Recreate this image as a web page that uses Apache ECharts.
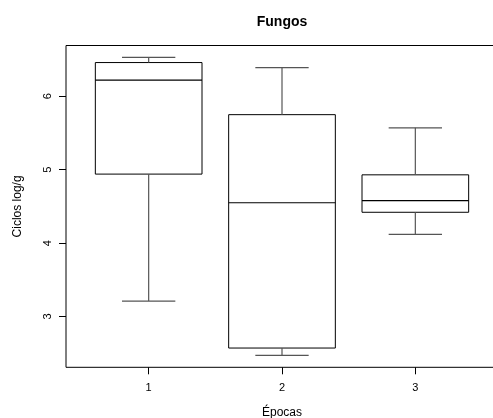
<!DOCTYPE html>
<html>
<head>
<meta charset="utf-8">
<script src="https://cdn.jsdelivr.net/npm/echarts@6/dist/echarts.min.js"></script>
<style>
html,body{margin:0;padding:0;background:#fff;}
#chart{width:493px;height:418px;}
</style>
</head>
<body>
<div id="chart"></div>
<script>
const categories = [1, 2, 3];
const lowerWhisker = [3.21, 2.47, 4.12];
const q1 = [4.94, 2.57, 4.42];
const median = [6.22, 4.55, 4.58];
const q3 = [6.46, 5.75, 4.93];
const upperWhisker = [6.53, 6.39, 5.57];
const yTicks = [3, 4, 5, 6];

const dataMin = Math.min(...lowerWhisker);
const dataMax = Math.max(...upperWhisker);
const pad = (dataMax - dataMin) * 0.04;

const FONT = '"Liberation Sans", Arial, sans-serif';
const BOX_HALF = 0.4, CAP_HALF = 0.2;

const seriesData = categories.map((c, i) => [c, lowerWhisker[i], q1[i], median[i], q3[i], upperWhisker[i]]);

const chart = echarts.init(document.getElementById('chart'), null, {renderer: 'canvas'});
chart.setOption({
  animation: false,
  backgroundColor: '#fff',
  title: {
    text: 'Fungos', left: 282, top: 15, textAlign: 'center', padding: 0,
    textStyle: {fontFamily: FONT, fontSize: 14, fontWeight: 'bold', color: '#000'}
  },
  grid: {
    left: 66, top: 45.5, width: 432, height: 321.8,
    outerBoundsMode: 'none', containLabel: false,
    show: true, borderColor: '#000', borderWidth: 1, backgroundColor: 'transparent'
  },
  xAxis: {
    type: 'value', min: 0.5 - 0.12, max: 3.5 + 0.12,
    name: 'Épocas', nameLocation: 'middle', nameGap: 39,
    nameTextStyle: {fontFamily: FONT, fontSize: 12, color: '#000'},
    axisLine: {show: false},
    splitLine: {show: false},
    axisTick: {show: true, length: 7, customValues: categories, lineStyle: {color: '#000'}},
    axisLabel: {customValues: categories, margin: 15, fontFamily: FONT, fontSize: 11, color: '#000'}
  },
  yAxis: {
    type: 'value', min: dataMin - pad, max: dataMax + pad,
    name: 'Ciclos log/g', nameLocation: 'middle', nameGap: 42.5,
    nameTextStyle: {fontFamily: FONT, fontSize: 12, color: '#000'},
    axisLine: {show: false},
    splitLine: {show: false},
    axisTick: {show: true, length: 7, customValues: yTicks, lineStyle: {color: '#000'}},
    axisLabel: {customValues: yTicks, rotate: 90, margin: 13, fontFamily: FONT, fontSize: 11, color: '#000'}
  },
  series: [{
    type: 'custom',
    data: seriesData,
    encode: {x: 0, y: [1, 2, 3, 4, 5]},
    renderItem: function (params, api) {
      const x = api.value(0);
      const lo = api.value(1), a = api.value(2), m = api.value(3), b = api.value(4), hi = api.value(5);
      const P = (xx, yy) => api.coord([xx, yy]);
      const line = (p1, p2, color, w) => ({
        type: 'line',
        shape: {x1: p1[0], y1: p1[1], x2: p2[0], y2: p2[1]},
        style: {stroke: color, lineWidth: w}
      });
      const tl = P(x - BOX_HALF, b), br = P(x + BOX_HALF, a);
      const wc = '#555';
      return {
        type: 'group',
        children: [
          {type: 'rect', shape: {x: tl[0], y: tl[1], width: br[0] - tl[0], height: br[1] - tl[1]},
           style: {fill: 'none', stroke: '#000', lineWidth: 1}},
          line(P(x - BOX_HALF, m), P(x + BOX_HALF, m), '#000', 1.2),
          line(P(x, b), P(x, hi), wc, 1.2),
          line(P(x, a), P(x, lo), wc, 1.2),
          line(P(x - CAP_HALF, hi), P(x + CAP_HALF, hi), wc, 1.2),
          line(P(x - CAP_HALF, lo), P(x + CAP_HALF, lo), wc, 1.2)
        ]
      };
    }
  }]
});
</script>
</body>
</html>
